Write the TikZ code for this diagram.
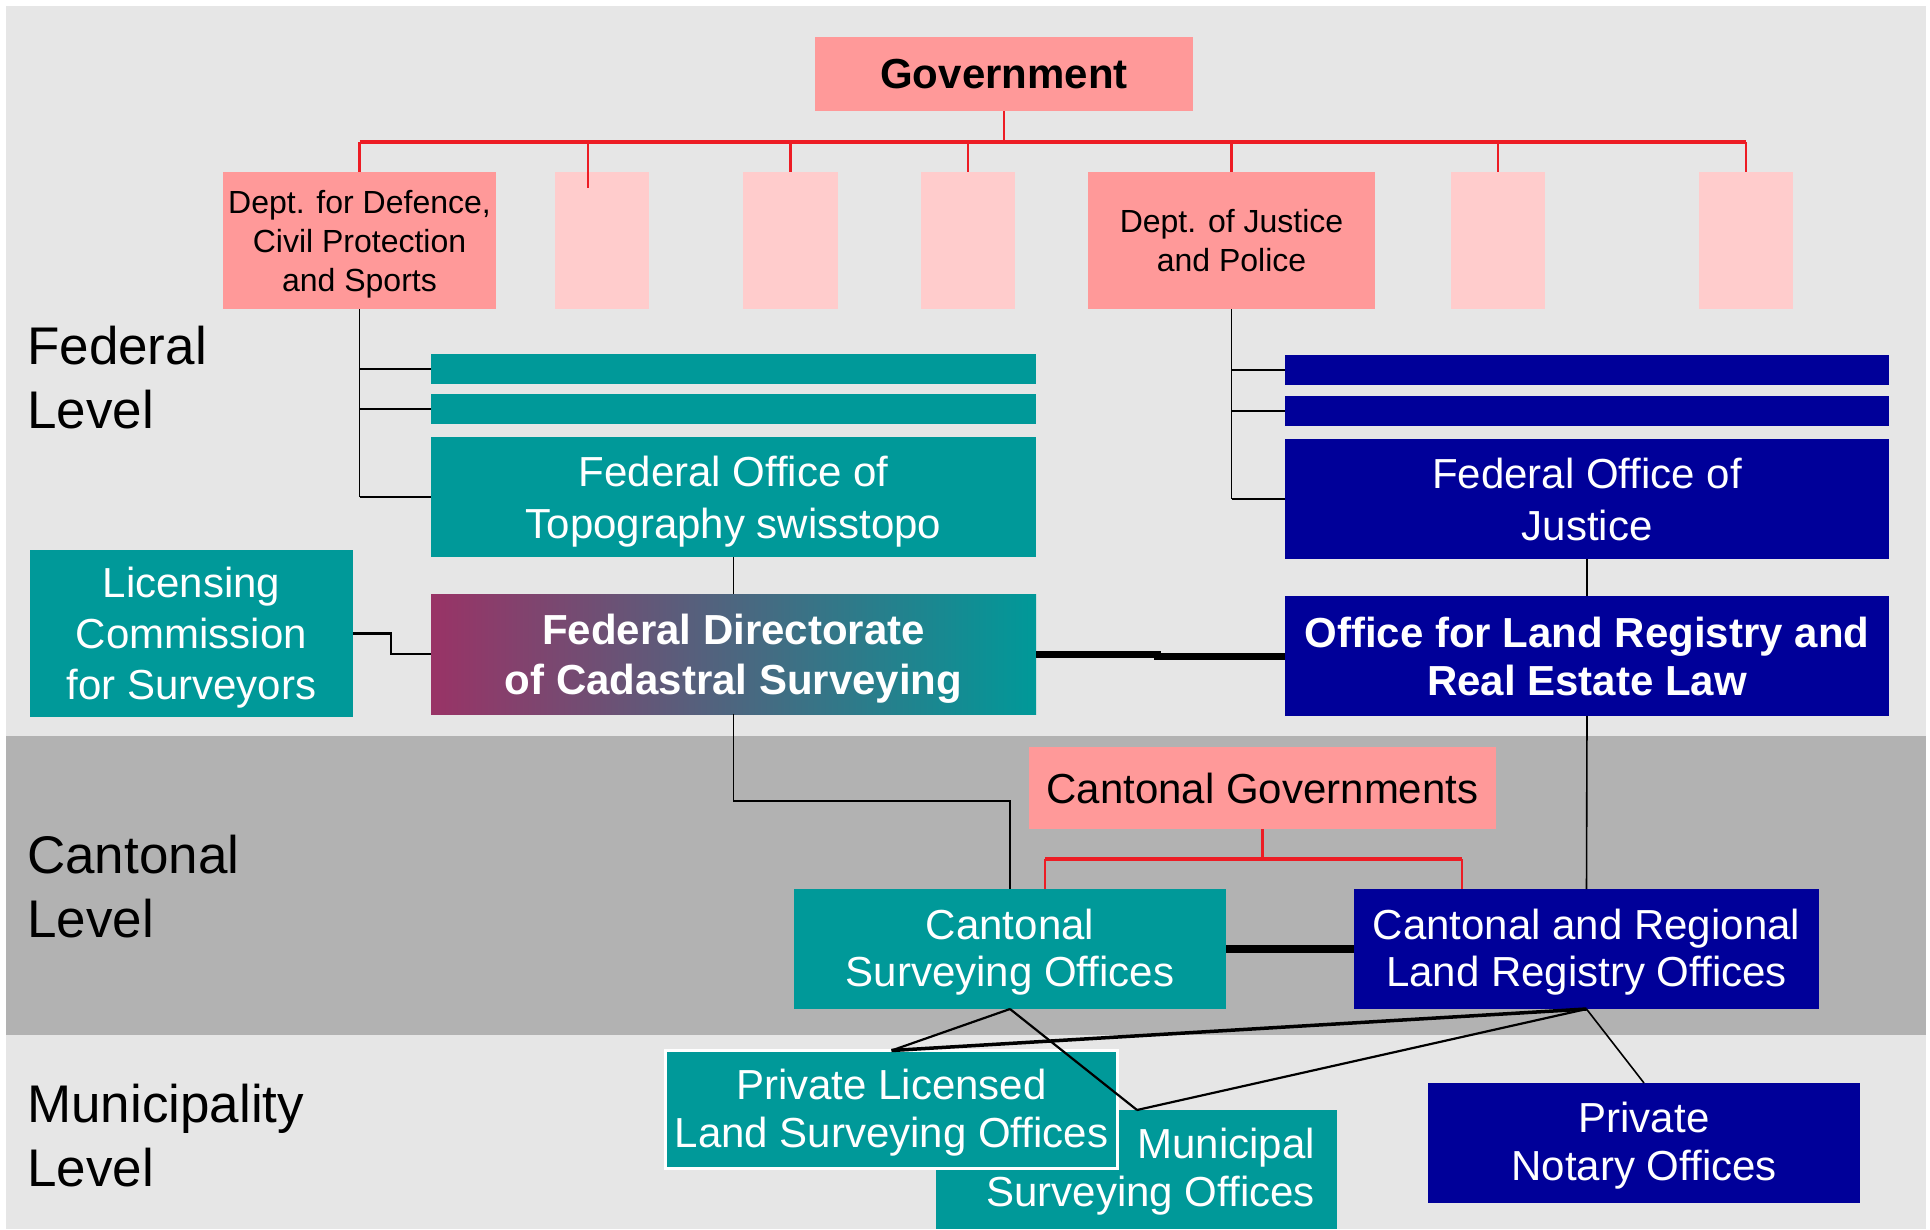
\documentclass[tikz,border=0pt]{standalone}
\usepackage{fontspec}
\setmainfont{Liberation Sans}
\usetikzlibrary{calc}
\definecolor{cteal}{HTML}{009999}
\definecolor{cnavy}{HTML}{000099}
\definecolor{csalmon}{HTML}{FF9999}
\definecolor{cpale}{HTML}{FFCCCC}
\definecolor{cbg}{HTML}{E6E6E6}
\definecolor{cband}{HTML}{B2B2B2}
\definecolor{cred}{HTML}{ED1C24}
\definecolor{cmaroon}{HTML}{993366}
\newcommand\myfs[2]{\fontsize{#1}{#2}\selectfont}
\newcommand\nodepth[1]{\raisebox{0pt}[\height][0pt]{#1}}
\newcommand\lessdepth[1]{\raisebox{0pt}[\height][3pt]{#1}}
\begin{document}
\begin{tikzpicture}[x=1pt,y=-1pt,
  box/.style={inner sep=0pt, outer sep=0pt, align=center, font=\myfs{42}{49}},
  sz/.style 2 args={minimum width=#1pt, minimum height=#2pt},
  tealbox/.style={box, fill=cteal, text=white},
  navybox/.style={box, fill=cnavy, text=white},
  salbox/.style={box, fill=csalmon, text=black},
  palebox/.style={box, fill=cpale},
  deptfont/.style={font=\myfs{32}{39}},
  levellabel/.style={inner sep=0pt, anchor=west, align=left, font=\myfs{53}{64}},
  redbus/.style={draw=cred, line width=3.5pt},
  reddrop/.style={draw=cred, line width=2.5pt},
  stub/.style={draw=black, line width=2.2pt},
  thin/.style={draw=black, line width=1.6pt},
  heavy/.style={draw=black, line width=7pt},
]
\useasboundingbox (0,0) rectangle (1930,1229);
% backgrounds
\fill[white] (0,0) rectangle (1930,1229);
\fill[cbg] (6,6) rectangle (1926,1229);
\fill[cband] (6,736) rectangle (1926,1035);

% level labels
\node[levellabel] (lvf) at (27,378) {Federal\\Level};
\node[levellabel] (lvc) at (27,887) {Cantonal\\Level};
\node[levellabel] (lvm) at (27,1136) {Municipality\\Level};

% government
\node[salbox, sz={378}{74}, font=\myfs{42}{49}\bfseries] (gov) at (1004,74) {Government};
\coordinate (bus) at (1004,142);

% departments
\node[salbox, deptfont, sz={273}{137}] (d1) at (359.5,240.5) {Dept. for Defence,\\Civil Protection\\\nodepth{and Sports}};
\node[palebox, sz={94}{137}] (p1) at (602,240.5) {};
\node[palebox, sz={95}{137}] (p2) at (790.5,240.5) {};
\node[palebox, sz={94}{137}] (p3) at (968,240.5) {};
\node[salbox, deptfont, sz={287}{137}] (dj) at (1231.5,240.5) {Dept. of Justice\\and Police};
\node[palebox, sz={94}{137}] (p4) at (1498,240.5) {};
\node[palebox, sz={94}{137}] (p5) at (1746,240.5) {};

\coordinate (p1a) at (588,142);
\coordinate (p1b) at (588,188);

\draw[reddrop] (gov.south) -- (bus);
\draw[redbus] (d1.north |- bus) -- (p5.north |- bus);
\draw[reddrop] (d1.north |- bus) -- (d1.north);
\draw[reddrop] (p1a) -- (p1b);
\draw[reddrop] (p2.north |- bus) -- (p2.north);
\draw[reddrop] (p3.north |- bus) -- (p3.north);
\draw[reddrop] (dj.north |- bus) -- (dj.north);
\draw[reddrop] (p4.north |- bus) -- (p4.north);
\draw[reddrop] (p5.north |- bus) -- (p5.north);

% federal offices (left)
\node[tealbox, sz={605}{30}] (tb1) at (733.5,369) {};
\node[tealbox, sz={605}{30}] (tb2) at (733.5,409) {};
\node[tealbox, sz={605}{120}, font=\myfs{42}{52}] (topo) at (733.5,497) {Federal Office of\\\nodepth{Topography swisstopo}};
% federal offices (right)
\node[navybox, sz={604}{30}] (nb1) at (1587,370) {};
\node[navybox, sz={604}{30}] (nb2) at (1587,411) {};
\node[navybox, sz={604}{120}, font=\myfs{42}{52}] (foj) at (1587,499) {Federal Office of\\Justice};

\draw[thin] (d1.south) -- (d1.south |- topo.west);
\draw[stub] (d1.south |- tb1.west) -- (tb1.west);
\draw[stub] (d1.south |- tb2.west) -- (tb2.west);
\draw[stub] (d1.south |- topo.west) -- (topo.west);
\draw[thin] (dj.south) -- (dj.south |- foj.west);
\draw[stub] (dj.south |- nb1.west) -- (nb1.west);
\draw[stub] (dj.south |- nb2.west) -- (nb2.west);
\draw[stub] (dj.south |- foj.west) -- (foj.west);

% licensing, directorate, land registry office
\node[tealbox, sz={323}{167}, font=\myfs{42}{51}] (lic) at (191.5,633.5) {Licensing\\Commission\\\nodepth{for Surveyors}};
\node[box, sz={605}{120}, left color=cmaroon, right color=cteal, text=white, font=\myfs{42}{50}\bfseries] (dir) at (733.5,654) {Federal Directorate\\\nodepth{of Cadastral Surveying}};
\node[navybox, sz={604}{120}, font=\myfs{42}{48}\bfseries] (olr) at (1587,656) {Office for Land Registry and\\Real Estate Law};

\draw[thin] (topo.south) -- (dir.north);
\draw[thin] (foj.south) -- (olr.north);
\draw[stub] (lic.east) -- ++(38,0) |- (dir.west);
\draw[heavy] (dir.east) -- ++(121,0) |- (olr.west);

% cantonal level
\node[salbox, sz={467}{82}] (cg) at (1262.5,788) {Cantonal Governments};
\node[tealbox, sz={432}{120}, font=\myfs{42}{47}] (cso) at (1010,949) {Cantonal\\\lessdepth{Surveying Offices}};
\node[navybox, sz={465}{120}, font=\myfs{42}{47}] (clr) at (1586.5,949) {Cantonal and Regional\\\lessdepth{Land Registry Offices}};

\coordinate (cgl) at (1045,859);
\coordinate (cgr) at (1462,859);
\draw[reddrop] (cg.south) -- (cg.south |- cgl);
\draw[redbus] (cgl) -- (cgr);
\draw[reddrop] (cgl) -- (cgl |- cso.north);
\draw[reddrop] (cgr) -- (cgr |- clr.north);

\draw[thin] (dir.south) -- ++(0,87) -| (cso.north);
\draw[thin] (olr.south) -- (clr.north);
\draw[heavy, line width=8pt] (cso.east) -- (clr.west);

% municipality level
\node[tealbox, sz={401}{119}, anchor=north west] (mun) at (936,1110) {};
\node[inner sep=0pt, anchor=east, align=right, text=white, font=\myfs{42}{48}] (muntext) at (1315,1169) {Municipal\\\lessdepth{Surveying Offices}};
\node[tealbox, sz={452}{118}, draw=white, line width=3pt, font=\myfs{42}{48}] (pl) at (891.5,1109.5) {Private Licensed\\\lessdepth{Land Surveying Offices}};
\node[navybox, sz={432}{120}, font=\myfs{42}{48}] (npo) at (1644,1143) {Private\\\lessdepth{Notary Offices}};

\coordinate (munc) at (1137,1110);
\draw[stub] (cso.south) -- (pl.north);
\draw[stub] (cso.south) -- (munc);
\draw[draw=black, line width=3.5pt] (clr.south) -- (pl.north);
\draw[stub] (clr.south) -- (munc);
\draw[thin] (clr.south) -- (npo.north);
\end{tikzpicture}
\end{document}
